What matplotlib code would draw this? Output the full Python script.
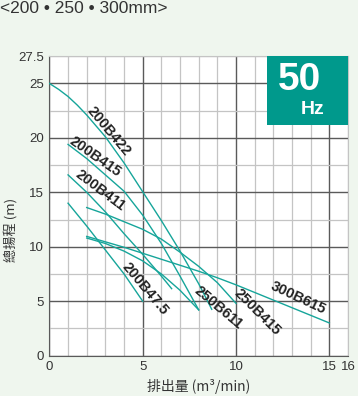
import numpy as np
import matplotlib
matplotlib.use("Agg")
import matplotlib.pyplot as plt
from matplotlib.patches import Rectangle

# pump curves (flow m3/min, head m)
x_200b422 = [0, 0.5, 1, 1.5, 2, 3, 4, 5, 6, 7, 8, 8.7]
h_200b422 = [25.0, 24.45, 23.8, 23.0, 22.1, 20.1, 17.7, 15.05, 12.4, 9.6, 6.6, 4.25]
x_200b415 = [1, 2, 3, 4, 5, 6, 7, 8]
h_200b415 = [19.4, 18.1, 16.6, 15.1, 12.9, 10.3, 7.3, 4.2]
x_200b411 = [1, 2, 3, 4, 5, 6, 6.55]
h_200b411 = [16.6, 15.0, 13.2, 11.2, 9.3, 7.3, 6.15]
x_200b475 = [1, 2, 3, 4, 5]
h_200b475 = [14.0, 11.9, 9.7, 7.5, 5.0]
x_250b415 = [2, 3, 4, 5, 6, 7, 8, 9, 10]
h_250b415 = [13.6, 13.0, 12.3, 11.6, 10.7, 9.5, 8.2, 6.7, 4.8]
x_250b611 = [2, 3, 4, 5, 6, 7, 8]
h_250b611 = [10.8, 10.3, 9.6, 8.7, 7.5, 6.0, 4.2]
x_300b615 = [2, 3, 4, 5, 6, 7, 8, 9, 10, 11, 12, 13, 14, 15]
h_300b615 = [10.95, 10.45, 9.95, 9.4, 8.85, 8.3, 7.75, 7.15, 6.5, 5.8, 5.1, 4.4, 3.7, 3.0]

names = ["200B422", "200B415", "200B411", "200B47.5", "250B611", "250B415", "300B615"]
label_x = [3.17, 2.47, 2.71, 5.12, 9.08, 11.15, 13.34]
label_y = [20.6, 18.3, 15.2, 6.16, 4.42, 3.96, 5.34]
label_rot = [-50, -35, -37, -50, -40, -45, -25]

xticks = [0, 5, 10, 15, 16]
yticks = [0, 5, 10, 15, 20, 25, 27.5]

teal = "#16a59a"
bg = "#eff6ee"
light = "#c4c4c4"
dark = "#5a5a5a"

fig = plt.figure(figsize=(3.58, 3.96), dpi=100, facecolor=bg)
ax = fig.add_axes([0.138, 0.102, 0.834, 0.756])
ax.set_facecolor("white")

ax.set_xlim(0, 16)
ax.set_ylim(0, 27.5)
ax.set_xticks(xticks)
ax.set_xticks(np.arange(0, 17, 1), minor=True)
ax.set_yticks(yticks)
ax.set_yticklabels(["0", "5", "10", "15", "20", "25", "27.5"])
ax.set_yticks(np.arange(0, 27.6, 2.5), minor=True)
ax.grid(which="minor", color=light, linewidth=0.9, zorder=0)
ax.grid(which="major", color=dark, linewidth=1.0, zorder=0)
ax.set_axisbelow(True)
ax.get_xgridlines()[-1].set_color(light)
ax.get_ygridlines()[-1].set_color(light)
ax.tick_params(which="both", length=0, labelsize=9.5, labelcolor="#333333",
               pad=4)
for lab in ax.get_xticklabels() + ax.get_yticklabels():
    lab.set_family("Liberation Sans")
for s in ["left", "bottom"]:
    ax.spines[s].set_color(dark)
for s in ["top", "right"]:
    ax.spines[s].set_color(light)

curves = [(x_200b422, h_200b422), (x_200b415, h_200b415), (x_200b411, h_200b411),
          (x_200b475, h_200b475), (x_250b611, h_250b611), (x_250b415, h_250b415),
          (x_300b615, h_300b615)]
for xs, hs in curves:
    ax.plot(xs, hs, color=teal, linewidth=1.0, zorder=3)

for n, lx, ly, r in zip(names, label_x, label_y, label_rot):
    ax.text(lx, ly, n, rotation=r, rotation_mode="anchor", ha="center", va="center",
            fontsize=10.5, fontweight="bold", color="#222222",
            family="Liberation Sans", zorder=4)

# 50 Hz badge
ax.add_patch(Rectangle((0.728, 0.77), 0.272, 0.23, transform=ax.transAxes,
                       facecolor="#00998c", edgecolor="none", zorder=5, clip_on=False))
ax.text(0.839, 0.92, "50", transform=ax.transAxes, ha="center", va="center",
        fontsize=28, fontweight="bold", color="white", family="Liberation Sans", zorder=6)
ax.text(0.882, 0.823, "Hz", transform=ax.transAxes, ha="center", va="center",
        fontsize=14, fontweight="bold", color="white", family="Liberation Sans", zorder=6)

ax.set_xlabel("排出量 (m³/min)", fontsize=10, color="#333333",
              family=["Noto Sans CJK TC", "DejaVu Sans"], labelpad=4)
ax.set_ylabel("總揚程 (m)", fontsize=9.5, color="#333333",
              family=["Noto Sans CJK TC", "DejaVu Sans"])
ax.yaxis.set_label_coords(-0.108, 0.42)

fig.text(0.0, 0.998, "<200 • 250 • 300mm>", ha="left", va="top", fontsize=12.5,
         color="#333333", family=["Liberation Sans", "DejaVu Sans"])

fig.savefig("out.png", dpi=100, facecolor=bg)
